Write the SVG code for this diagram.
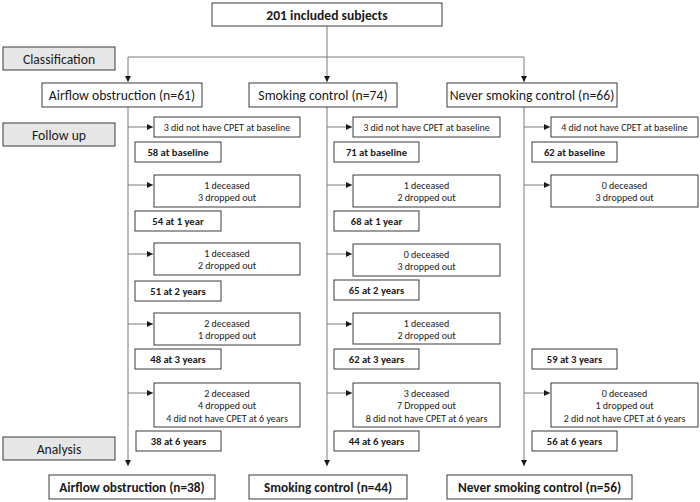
<svg xmlns="http://www.w3.org/2000/svg" width="700" height="502" viewBox="0 0 700 502">
<defs>
<marker id="ah" viewBox="0 0 6 6" refX="6" refY="3" markerWidth="6" markerHeight="6" markerUnits="userSpaceOnUse" orient="auto">
<path d="M0,0 L6,3 L0,6 Z" fill="#1a1a1a"/>
</marker>
</defs>
<style>
rect{fill:#fff;stroke:#3a3a3a;stroke-width:1}
rect.g{fill:#e7e6e6}
text{font-family:Carlito,Lato,"Liberation Sans",sans-serif;fill:#1a1a1a;text-anchor:middle}
.lg{font-size:13.7px}
.lb{font-size:13.3px;font-weight:bold}
.tb{font-size:13.6px;font-weight:bold}
.sm{font-size:10px}
.sb{font-size:10.6px;font-weight:bold}
#connectors path{fill:none;stroke:#7a7a7a;stroke-width:1}
#connectors path.a{marker-end:url(#ah)}
</style>
<g id="connectors">
<path d="M327,26 V57"/>
<path d="M128,57 H524"/>
<path class="a" d="M128,57 V82"/>
<path class="a" d="M327,57 V82"/>
<path class="a" d="M524,57 V82"/>
<path class="a" d="M128,107 V466"/>
<path class="a" d="M327,107 V466"/>
<path class="a" d="M524,107 V466"/>
<path class="a" d="M128,127 H153"/>
<path class="a" d="M128,185 H153"/>
<path class="a" d="M128,254 H153"/>
<path class="a" d="M128,324 H153"/>
<path class="a" d="M128,393 H153"/>
<path class="a" d="M327,127 H352"/>
<path class="a" d="M327,185 H352"/>
<path class="a" d="M327,254 H352"/>
<path class="a" d="M327,324 H352"/>
<path class="a" d="M327,393 H352"/>
<path class="a" d="M524,127 H550"/>
<path class="a" d="M524,185 H550"/>
<path class="a" d="M524,393 H550"/>
</g>
<g id="top"><rect x="212" y="3" width="230" height="23"/><text class="tb" x="327" y="19.5">201 included subjects</text></g>
<g id="classification"><rect class="g" x="3" y="47" width="112" height="23"/><text class="lg" x="59" y="63.5">Classification</text></g>
<g id="followup"><rect class="g" x="3" y="123" width="112" height="23"/><text class="lg" x="59" y="139.5">Follow up</text></g>
<g id="analysis"><rect class="g" x="3" y="437" width="112" height="23"/><text class="lg" x="59" y="453.5">Analysis</text></g>
<g id="ao61"><rect x="42" y="83" width="160" height="24"/><text class="lg" x="122" y="100">Airflow obstruction (n=61)</text></g>
<g id="sc74"><rect x="249" y="83" width="148" height="24"/><text class="lg" x="323" y="100">Smoking control (n=74)</text></g>
<g id="nsc66"><rect x="447" y="83" width="170" height="24"/><text class="lg" x="532" y="100">Never smoking control (n=66)</text></g>

<g id="c1e0"><rect x="154" y="117" width="146" height="20"/><text class="sm" x="227" y="130.5">3 did not have CPET at baseline</text></g>
<g id="c1n0"><rect x="135" y="142" width="86" height="20"/><text class="sb" x="178" y="155.5">58 at baseline</text></g>
<g id="c1e1"><rect x="154" y="175" width="146" height="32"/><text class="sm" x="227" y="188.5">1 deceased</text><text class="sm" x="227" y="201">3 dropped out</text></g>
<g id="c1n1"><rect x="135" y="211" width="86" height="20"/><text class="sb" x="178" y="224.5">54 at 1 year</text></g>
<g id="c1e2"><rect x="154" y="243" width="146" height="32"/><text class="sm" x="227" y="256.5">1 deceased</text><text class="sm" x="227" y="269">2 dropped out</text></g>
<g id="c1n2"><rect x="135" y="281" width="86" height="20"/><text class="sb" x="178" y="294.5">51 at 2 years</text></g>
<g id="c1e3"><rect x="154" y="313" width="146" height="32"/><text class="sm" x="227" y="326.5">2 deceased</text><text class="sm" x="227" y="339">1 dropped out</text></g>
<g id="c1n3"><rect x="135" y="349" width="86" height="20"/><text class="sb" x="178" y="362.5">48 at 3 years</text></g>
<g id="c1e6"><rect x="154" y="383" width="146" height="44"/><text class="sm" x="227" y="396.5">2 deceased</text><text class="sm" x="227" y="409">4 dropped out</text><text class="sm" x="227" y="421.5">4 did not have CPET at 6 years</text></g>
<g id="c1n6"><rect x="136" y="431" width="85" height="20"/><text class="sb" x="178.5" y="444.5">38 at 6 years</text></g>

<g id="c2e0"><rect x="353" y="117" width="147" height="20"/><text class="sm" x="426.5" y="130.5">3 did not have CPET at baseline</text></g>
<g id="c2n0"><rect x="334" y="142" width="85" height="20"/><text class="sb" x="376.5" y="155.5">71 at baseline</text></g>
<g id="c2e1"><rect x="353" y="175" width="147" height="32"/><text class="sm" x="426.5" y="188.5">1 deceased</text><text class="sm" x="426.5" y="201">2 dropped out</text></g>
<g id="c2n1"><rect x="334" y="211" width="85" height="20"/><text class="sb" x="376.5" y="224.5">68 at 1 year</text></g>
<g id="c2e2"><rect x="353" y="244" width="147" height="32"/><text class="sm" x="426.5" y="257.5">0 deceased</text><text class="sm" x="426.5" y="270">3 dropped out</text></g>
<g id="c2n2"><rect x="334" y="280" width="85" height="20"/><text class="sb" x="376.5" y="293.5">65 at 2 years</text></g>
<g id="c2e3"><rect x="353" y="313" width="147" height="31"/><text class="sm" x="426.5" y="326.5">1 deceased</text><text class="sm" x="426.5" y="339">2 dropped out</text></g>
<g id="c2n3"><rect x="334" y="349" width="85" height="20"/><text class="sb" x="376.5" y="362.5">62 at 3 years</text></g>
<g id="c2e6"><rect x="353" y="383" width="147" height="44"/><text class="sm" x="426.5" y="396.5">3 deceased</text><text class="sm" x="426.5" y="409">7 Dropped out</text><text class="sm" x="426.5" y="421.5">8 did not have CPET at 6 years</text></g>
<g id="c2n6"><rect x="334" y="431" width="85" height="20"/><text class="sb" x="376.5" y="444.5">44 at 6 years</text></g>

<g id="c3e0"><rect x="551" y="117" width="147" height="20"/><text class="sm" x="624.5" y="130.5">4 did not have CPET at baseline</text></g>
<g id="c3n0"><rect x="532" y="142" width="85" height="20"/><text class="sb" x="574.5" y="155.5">62 at baseline</text></g>
<g id="c3e1"><rect x="551" y="175" width="147" height="32"/><text class="sm" x="624.5" y="188.5">0 deceased</text><text class="sm" x="624.5" y="201">3 dropped out</text></g>
<g id="c3n3"><rect x="532" y="349" width="85" height="20"/><text class="sb" x="574.5" y="362.5">59 at 3 years</text></g>
<g id="c3e6"><rect x="551" y="383" width="147" height="44"/><text class="sm" x="624.5" y="396.5">0 deceased</text><text class="sm" x="624.5" y="409">1 dropped out</text><text class="sm" x="624.5" y="421.5">2 did not have CPET at 6 years</text></g>
<g id="c3n6"><rect x="532" y="431" width="85" height="20"/><text class="sb" x="574.5" y="444.5">56 at 6 years</text></g>

<g id="ao38"><rect x="49" y="475" width="166" height="24"/><text class="lb" x="132" y="492">Airflow obstruction (n=38)</text></g>
<g id="sc44"><rect x="249" y="475" width="158" height="24"/><text class="lb" x="328" y="492">Smoking control (n=44)</text></g>
<g id="nsc56"><rect x="447" y="475" width="185" height="24"/><text class="lb" x="539.5" y="492">Never smoking control (n=56)</text></g>
</svg>
